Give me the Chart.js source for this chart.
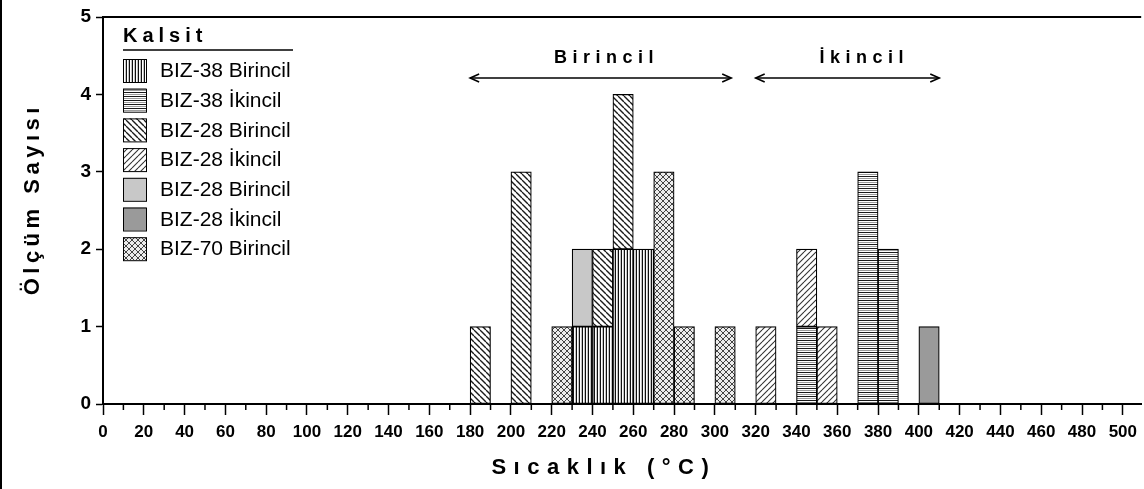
<!DOCTYPE html>
<html><head><meta charset="utf-8">
<script src="https://cdn.jsdelivr.net/npm/chart.js@4.4.1/dist/chart.umd.min.js"></script>
<style>html,body{margin:0;padding:0;background:#fff}canvas{display:block}</style>
</head><body>
<canvas id="histChart" width="1144" height="489"></canvas>
<script>
/* ---------- data (bin start, count) ---------- */
const seriesLabels=['BIZ-38 Birincil','BIZ-38 İkincil','BIZ-28 Birincil','BIZ-28 İkincil','BIZ-28 Birincil','BIZ-28 İkincil','BIZ-70 Birincil'];
const biz38BirBins=[230,240,250,260],   biz38BirCounts=[1,1,2,2];
const biz38IkiBins=[340,370,380],       biz38IkiCounts=[1,3,2];
const biz28BirBins=[180,200,240,250],   biz28BirCounts=[1,3,1,2];
const biz28IkiBins=[320,340,350],       biz28IkiCounts=[1,1,1];
const biz28BirGrayBins=[230],           biz28BirGrayCounts=[1];
const biz28IkiGrayBins=[400],           biz28IkiGrayCounts=[1];
const biz70BirBins=[220,270,280,300],   biz70BirCounts=[1,3,1,1];
const binWidth=10;
const xTickValues={min:0,max:509,step:10,labelEvery:20};
const yTickValues={min:0,max:5,step:1};
const legendTitle='Kalsit';
const rangeLabels=['Birincil','İkincil'];
const rangeStarts=[180,320], rangeEnds=[308,410];
const xTitle='Sıcaklık (°C)', yTitle='Ölçüm Sayısı';

/* ---------- fill patterns ---------- */
function hatch(kind){
  const c=document.createElement('canvas'), g=c.getContext('2d');
  if(kind==='vert'){
    c.width=3;c.height=3;
    g.fillStyle='#fff';g.fillRect(0,0,3,3);
    g.fillStyle='#111';g.fillRect(0,0,1,3);
    g.fillStyle='#c4c4c4';g.fillRect(2,0,1,3);
  }else if(kind==='horiz'){
    c.width=4;c.height=4;
    g.fillStyle='#fff';g.fillRect(0,0,4,4);
    g.fillStyle='#1a1a1a';g.fillRect(0,0,4,1);
    g.fillStyle='#9a9a9a';g.fillRect(0,2,4,1);
  }else{
    const n=6;c.width=n;c.height=n;
    g.fillStyle=kind==='cross'?'#ececec':'#fff';g.fillRect(0,0,n,n);
    const back=()=>{for(let k=-1;k<=1;k++){g.beginPath();g.moveTo(0,k*n);g.lineTo(n,n+k*n);g.stroke();}};
    const fwd=()=>{for(let k=0;k<=2;k++){g.beginPath();g.moveTo(0,k*n);g.lineTo(n,k*n-n);g.stroke();}};
    if(kind==='back'){g.strokeStyle='#1a1a1a';g.lineWidth=1.35;back();}
    if(kind==='fwd'){g.strokeStyle='#333';g.lineWidth=1.1;fwd();}
    if(kind==='cross'){g.strokeStyle='#444';g.lineWidth=1;back();fwd();}
  }
  return g.createPattern(c,'repeat');
}
const fills=[hatch('vert'),hatch('horiz'),hatch('back'),hatch('fwd'),'#c8c8c8','#9a9a9a',hatch('cross')];

const toPoints=(bins,counts)=>bins.map((b,i)=>({x:b+binWidth/2,y:counts[i]}));
const seriesData=[
  toPoints(biz38BirBins,biz38BirCounts),
  toPoints(biz38IkiBins,biz38IkiCounts),
  toPoints(biz28BirBins,biz28BirCounts),
  toPoints(biz28IkiBins,biz28IkiCounts),
  toPoints(biz28BirGrayBins,biz28BirGrayCounts),
  toPoints(biz28IkiGrayBins,biz28IkiGrayCounts),
  toPoints(biz70BirBins,biz70BirCounts)
];

const SANS="'Liberation Sans', Arial, sans-serif";

/* ---------- legend, titles, arrows ---------- */
function spacedText(ctx,txt,x,y,spacing){
  ctx.letterSpacing=spacing+'px';
  const w=ctx.measureText(txt).width-spacing;
  ctx.textAlign='left';
  ctx.fillText(txt,x-w/2,y);
  ctx.letterSpacing='0px';
}
function arrow(ctx,x1,x2,y){
  ctx.beginPath();ctx.moveTo(x1,y);ctx.lineTo(x2,y);ctx.stroke();
  ctx.beginPath();ctx.moveTo(x1+9,y-4);ctx.lineTo(x1,y);ctx.lineTo(x1+9,y+4);ctx.stroke();
  ctx.beginPath();ctx.moveTo(x2-9,y-4);ctx.lineTo(x2,y);ctx.lineTo(x2-9,y+4);ctx.stroke();
}
const decor={
  id:'decor',
  afterDraw(chart){
    const {ctx,chartArea:a,scales:{x}}=chart;
    ctx.save();
    ctx.strokeStyle='#000';ctx.fillStyle='#000';
    // outer left frame + top of plot
    ctx.lineWidth=2;
    ctx.beginPath();ctx.moveTo(1,0);ctx.lineTo(1,chart.height);ctx.stroke();
    ctx.beginPath();ctx.moveTo(a.left,a.top);ctx.lineTo(a.right,a.top);ctx.stroke();
    // minor x ticks
    ctx.lineWidth=1.5;
    x.ticks.forEach(t=>{
      if(t.value%xTickValues.labelEvery===0) return;
      const px=x.getPixelForValue(t.value);
      ctx.beginPath();ctx.moveTo(px,a.bottom);ctx.lineTo(px,a.bottom+6);ctx.stroke();
    });
    // legend
    ctx.textBaseline='middle';
    ctx.font='bold 20px '+SANS;
    ctx.letterSpacing='5px';ctx.textAlign='left';
    ctx.fillText(legendTitle,123,36);
    ctx.letterSpacing='0px';
    ctx.lineWidth=1.5;
    ctx.beginPath();ctx.moveTo(123,50);ctx.lineTo(293,50);ctx.stroke();
    ctx.font='21px '+SANS;
    chart.data.datasets.forEach((ds,i)=>{
      const top=59+i*29.7;
      ctx.fillStyle=ds.backgroundColor;
      ctx.fillRect(123,top,23,23);
      ctx.lineWidth=1;ctx.strokeStyle='#000';
      ctx.strokeRect(123.5,top+0.5,23,23);
      ctx.fillStyle='#000';
      ctx.fillText(ds.label,160,top+12.5);
    });
    // range arrows
    ctx.font='bold 18px '+SANS;
    ctx.lineWidth=1.6;
    rangeLabels.forEach((lab,i)=>{
      const x1=x.getPixelForValue(rangeStarts[i]), x2=x.getPixelForValue(rangeEnds[i]);
      arrow(ctx,x1,x2,78);
      spacedText(ctx,lab,(x1+x2)/2+(i?14:3),58,5.5);
    });
    // axis titles
    ctx.font='bold 22px '+SANS;
    spacedText(ctx,xTitle,(a.left+a.right)/2-22,468,7.5);
    ctx.save();
    ctx.translate(33,(a.top+a.bottom)/2-9);
    ctx.rotate(-Math.PI/2);
    ctx.font='bold 22px '+SANS;
    spacedText(ctx,yTitle,0,0,4.5);
    ctx.restore();
    ctx.restore();
  }
};

/* ---------- chart ---------- */
const histChart=new Chart(document.getElementById('histChart').getContext('2d'),{
  type:'bar',
  data:{datasets:seriesLabels.map((lab,i)=>({
    label:lab,data:seriesData[i],backgroundColor:fills[i],
    borderColor:'#000',borderWidth:1.2,borderSkipped:false,
    barPercentage:1,categoryPercentage:1
  }))},
  options:{
    responsive:false,animation:false,
    layout:{padding:{top:17,right:0,left:0,bottom:0}},
    plugins:{legend:{display:false},tooltip:{enabled:false}},
    scales:{
      x:{
        type:'linear',stacked:true,offset:false,
        min:xTickValues.min,max:xTickValues.max,
        grid:{offset:false,drawOnChartArea:false,tickLength:11,tickWidth:1.5,
          tickColor:c=>c.tick&&c.tick.value%xTickValues.labelEvery===0?'#000':'rgba(0,0,0,0)'},
        border:{color:'#000',width:2},
        ticks:{stepSize:xTickValues.step,autoSkip:false,maxRotation:0,includeBounds:false,
          padding:7,color:'#000',font:{family:SANS,weight:'bold',size:17},
          callback:v=>v%xTickValues.labelEvery===0?String(v):''},
        afterFit:s=>{s.height=85;}
      },
      y:{
        stacked:true,min:yTickValues.min,max:yTickValues.max,
        grid:{drawOnChartArea:false,tickLength:7,tickWidth:1.5,tickColor:'#000'},
        border:{color:'#000',width:2},
        ticks:{stepSize:yTickValues.step,padding:5,color:'#000',font:{family:SANS,weight:'bold',size:19}},
        afterFit:s=>{s.width=103;}
      }
    }
  },
  plugins:[decor]
});
</script>
</body></html>
